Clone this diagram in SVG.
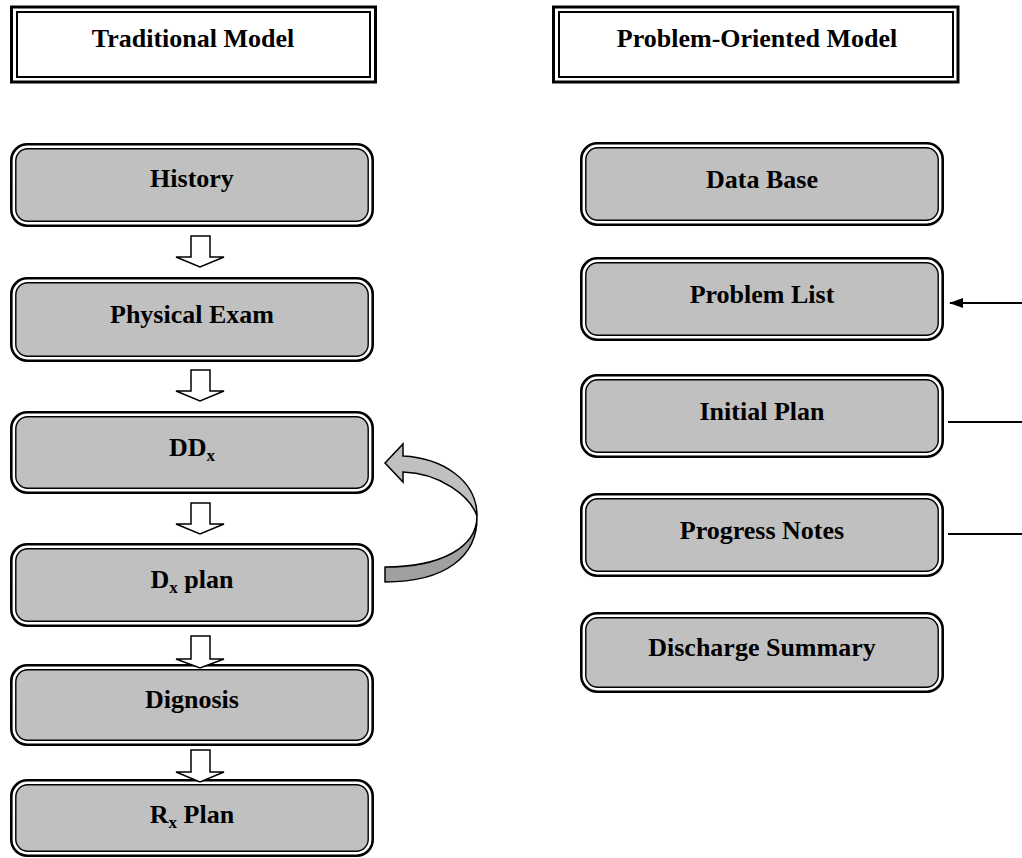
<svg xmlns="http://www.w3.org/2000/svg" width="1022" height="858" viewBox="0 0 1022 858">
<style>
.hdo{fill:#fff;stroke:#000;stroke-width:3}
.hdi{fill:none;stroke:#000;stroke-width:2}
.bo{fill:#fff;stroke:#000;stroke-width:2.6}
.bi{fill:#c0c0c0;stroke:#000;stroke-width:1.4}
.t{font-family:"Liberation Serif","Times New Roman",serif;font-weight:bold;font-size:26px;fill:#000;text-anchor:middle}
.sub{font-size:17px}
.ba{fill:#fff;stroke:#000;stroke-width:1.5;stroke-linejoin:miter}
.ln{stroke:#000;stroke-width:2;fill:none}
</style>
<defs>
<marker id="ah" markerWidth="14" markerHeight="10" refX="13" refY="5" orient="auto" markerUnits="userSpaceOnUse">
<path d="M0,0 L14,5 L0,10 Z" fill="#000"/>
</marker>
</defs>

<g id="hdr-traditional">
<rect class="hdo" x="11.5" y="7" width="364" height="75"/>
<rect class="hdi" x="17" y="12" width="353" height="65"/>
<text class="t" x="193" y="47">Traditional Model</text>
</g>
<g id="hdr-problem">
<rect class="hdo" x="553.5" y="7" width="404.5" height="75"/>
<rect class="hdi" x="559" y="12" width="394" height="65"/>
<text class="t" x="757" y="47">Problem-Oriented Model</text>
</g>

<g id="n-history">
<rect class="bo" x="11.3" y="144.3" width="361.4" height="81.4" rx="16"/>
<rect class="bi" x="15.8" y="148.8" width="352.4" height="72.4" rx="12"/>
<text class="t" x="192" y="187">History</text>
</g>
<g id="n-physical">
<rect class="bo" x="11.3" y="278.3" width="361.4" height="82.4" rx="16"/>
<rect class="bi" x="15.8" y="282.8" width="352.4" height="73.4" rx="12"/>
<text class="t" x="192" y="323">Physical Exam</text>
</g>
<g id="n-ddx">
<rect class="bo" x="11.3" y="412.3" width="361.4" height="80.4" rx="16"/>
<rect class="bi" x="15.8" y="416.8" width="352.4" height="71.4" rx="12"/>
<text class="t" x="192" y="456">DD<tspan class="sub" dy="5">x</tspan></text>
</g>
<g id="n-dxplan">
<rect class="bo" x="11.3" y="544.3" width="361.4" height="81.4" rx="16"/>
<rect class="bi" x="15.8" y="548.8" width="352.4" height="72.4" rx="12"/>
<text class="t" x="192" y="588">D<tspan class="sub" dy="5">x</tspan><tspan dy="-5"> plan</tspan></text>
</g>
<g id="n-dignosis">
<rect class="bo" x="11.3" y="665.3" width="361.4" height="79.4" rx="16"/>
<rect class="bi" x="15.8" y="669.8" width="352.4" height="70.4" rx="12"/>
<text class="t" x="192" y="708">Dignosis</text>
</g>
<g id="n-rxplan">
<rect class="bo" x="11.3" y="780.3" width="361.4" height="75.4" rx="16"/>
<rect class="bi" x="15.8" y="784.8" width="352.4" height="66.4" rx="12"/>
<text class="t" x="192" y="823">R<tspan class="sub" dy="5">x</tspan><tspan dy="-5"> Plan</tspan></text>
</g>

<g id="n-database">
<rect class="bo" x="581.3" y="143.3" width="361.4" height="81.4" rx="16"/>
<rect class="bi" x="585.8" y="147.8" width="352.4" height="72.4" rx="12"/>
<text class="t" x="762" y="188">Data Base</text>
</g>
<g id="n-problemlist">
<rect class="bo" x="581.3" y="258.3" width="361.4" height="81.4" rx="16"/>
<rect class="bi" x="585.8" y="262.8" width="352.4" height="72.4" rx="12"/>
<text class="t" x="762" y="303">Problem List</text>
</g>
<g id="n-initialplan">
<rect class="bo" x="581.3" y="375.3" width="361.4" height="81.4" rx="16"/>
<rect class="bi" x="585.8" y="379.8" width="352.4" height="72.4" rx="12"/>
<text class="t" x="762" y="420">Initial Plan</text>
</g>
<g id="n-progress">
<rect class="bo" x="581.3" y="494.3" width="361.4" height="81.4" rx="16"/>
<rect class="bi" x="585.8" y="498.8" width="352.4" height="72.4" rx="12"/>
<text class="t" x="762" y="539">Progress Notes</text>
</g>
<g id="n-discharge">
<rect class="bo" x="581.3" y="613.3" width="361.4" height="78.4" rx="16"/>
<rect class="bi" x="585.8" y="617.8" width="352.4" height="69.4" rx="12"/>
<text class="t" x="762" y="656">Discharge Summary</text>
</g>

<g id="connectors">
<path class="ba" d="M191,236 H210 V257 H224 L200,267 L176,257 H191 Z"/>
<path class="ba" d="M191,370 H210 V391 H224 L200,401 L176,391 H191 Z"/>
<path class="ba" d="M191,503 H210 V524 H224 L200,534 L176,524 H191 Z"/>
<path class="ba" d="M191,636 H210 V659 H224 L200,668 L176,659 H191 Z"/>
<path class="ba" d="M191,750 H210 V772 H224 L200,782 L176,772 H191 Z"/>
<path d="M477,516 C477,548 440,567 385,567 L385,582 C446,582 478,556 477,516 Z" fill="#a0a0a0" stroke="#000" stroke-width="1.5" stroke-linejoin="round"/>
<path d="M385,463 L403,444 L403,456 C442,458 477,480 477,516 C470,496 440,473 403,472 L403,482 Z" fill="#c0c0c0" stroke="#000" stroke-width="1.5" stroke-linejoin="miter"/>
<line class="ln" x1="1022" y1="303" x2="950" y2="303" marker-end="url(#ah)"/>
<line class="ln" x1="948" y1="422" x2="1022" y2="422"/>
<line class="ln" x1="948" y1="534" x2="1022" y2="534"/>
</g>
</svg>
